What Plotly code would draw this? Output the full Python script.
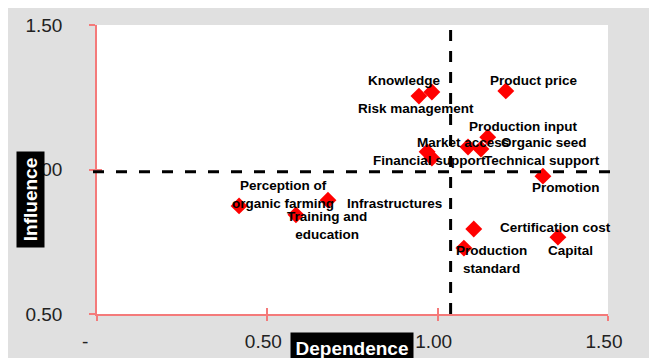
import plotly.graph_objects as go

# ---- data ----
factors = ["Knowledge", "Risk management", "Product price", "Production input",
           "Market access", "Organic seed", "Financial support", "Technical support",
           "Promotion", "Perception of<br>organic farming", "Infrastructures",
           "Training and<br>education", "Certification cost", "Production<br>standard", "Capital"]
dependence = [0.983, 0.945, 1.200, 1.147, 1.089, 1.127, 0.969, 0.983,
              1.309, 0.417, 0.678, 0.584, 1.106, 1.077, 1.353]
influence = [1.268, 1.254, 1.272, 1.112, 1.078, 1.071, 1.061, 1.040,
             0.977, 0.874, 0.894, 0.843, 0.794, 0.728, 0.766]
mean_dependence = 1.038
mean_influence = 0.992
x_tickvals = [0, 0.5, 1.0, 1.5]
x_ticktext = ["-\u00a0\u00a0\u00a0", "0.50", "1.00", "1.50"]
y_tickvals = [0.5, 1.0, 1.5]
y_ticktext = ["0.50", "1.00", "1.50"]

# label offsets in pixels (style only)
label_dx = [-28, -2.5, 28, 35, -5, 63.5, 2, 110, 23.5, 44, 66.5, 31, 81.5, 28, 13]
label_dy = [-12, 12, -10, -11, -4, -6, 9, 3, 11, -11, 3, 11, -2, 11.5, 13]

X_RANGE = [0, 1.5]
Y_RANGE = [0.5, 1.5]
OFF = 8  # page body margin
W, H = 649, 350
ML, MR, MT, MB = 89, 49, 17, 44
PW, PH = W - ML - MR, H - MT - MB

def px_x(px):  # screen px -> paper fraction
    return (px - OFF - ML) / PW

def px_y(py):
    return (H - MB - (py - OFF)) / PH

AXIS_RED = "#F47A7A"
FONT = "Arial, Liberation Sans, sans-serif"

fig = go.Figure()
fig.add_trace(go.Scatter(
    x=dependence, y=influence, mode="markers",
    marker=dict(symbol="diamond", size=13, color="#FF0000", line=dict(width=0)),
    showlegend=False, hoverinfo="skip"))
fig.add_trace(go.Scatter(x=[None], y=[None], xaxis="x2", yaxis="y2",
                         showlegend=False, hoverinfo="skip"))

annotations = []
for name, xv, yv, dx, dy in zip(factors, dependence, influence, label_dx, label_dy):
    annotations.append(dict(
        x=xv, y=yv, xref="x", yref="y", text="<b>" + name + "</b>", showarrow=False,
        xshift=dx, yshift=-dy, xanchor="center", yanchor="middle",
        font=dict(family=FONT, size=13.5, color="black")))

annotations.append(dict(
    x=px_x(30.5), y=px_y(199.5), xref="paper", yref="paper", text="<b>Influence</b>",
    textangle=-90, showarrow=False, xanchor="center", yanchor="middle",
    bgcolor="black", font=dict(family=FONT, size=19, color="white"),
    width=93, height=25, borderpad=1))
annotations.append(dict(
    x=px_x(352), y=px_y(348), xref="paper", yref="paper", text="<b>Dependence</b>",
    showarrow=False, xanchor="center", yanchor="middle",
    bgcolor="black", font=dict(family=FONT, size=19, color="white"),
    width=120, height=28, borderpad=1))

xm = (mean_dependence - X_RANGE[0]) / (X_RANGE[1] - X_RANGE[0])
ym = (mean_influence - Y_RANGE[0]) / (Y_RANGE[1] - Y_RANGE[0])
shapes = [
    dict(type="line", xref="paper", yref="paper", x0=xm, x1=xm, y0=0, y1=px_y(22),
         line=dict(color="black", width=3, dash="11px,10px"), layer="above"),
    dict(type="line", xref="paper", yref="paper", x0=px_x(93), x1=px_x(621), y0=ym, y1=ym,
         line=dict(color="black", width=3, dash="11px,12px"), layer="above"),
]

axis_common = dict(showgrid=False, zeroline=False, showline=True, linecolor=AXIS_RED,
                   linewidth=1.5, ticks="outside", tickcolor=AXIS_RED, tickwidth=1.5,
                   automargin=False,
                   tickfont=dict(family=FONT, size=19, color="#222222"))
overlay_common = dict(ticks="inside", tickcolor=AXIS_RED, tickwidth=1.5, automargin=False,
                      showticklabels=False, showgrid=False, zeroline=False, showline=False)

fig.update_layout(
    width=W, height=H, autosize=False, margin=dict(l=ML, r=MR, t=MT, b=MB, pad=0, autoexpand=False),
    paper_bgcolor="#E0E0E0", plot_bgcolor="white",
    showlegend=False,
    xaxis=dict(range=X_RANGE, tickvals=x_tickvals, ticktext=x_ticktext, ticklen=5,
               ticklabelshift=-4, ticklabelstandoff=4, **axis_common),
    yaxis=dict(range=Y_RANGE, tickvals=y_tickvals, ticktext=y_ticktext, ticklen=6,
               ticklabelstandoff=23, **axis_common),
    xaxis2=dict(range=X_RANGE, overlaying="x", anchor="y2", tickvals=x_tickvals,
                ticklen=6, **overlay_common),
    yaxis2=dict(range=Y_RANGE, overlaying="y", anchor="x2", tickvals=y_tickvals,
                ticklen=5, **overlay_common),
    annotations=annotations, shapes=shapes,
)

fig.write_html("out.html")
